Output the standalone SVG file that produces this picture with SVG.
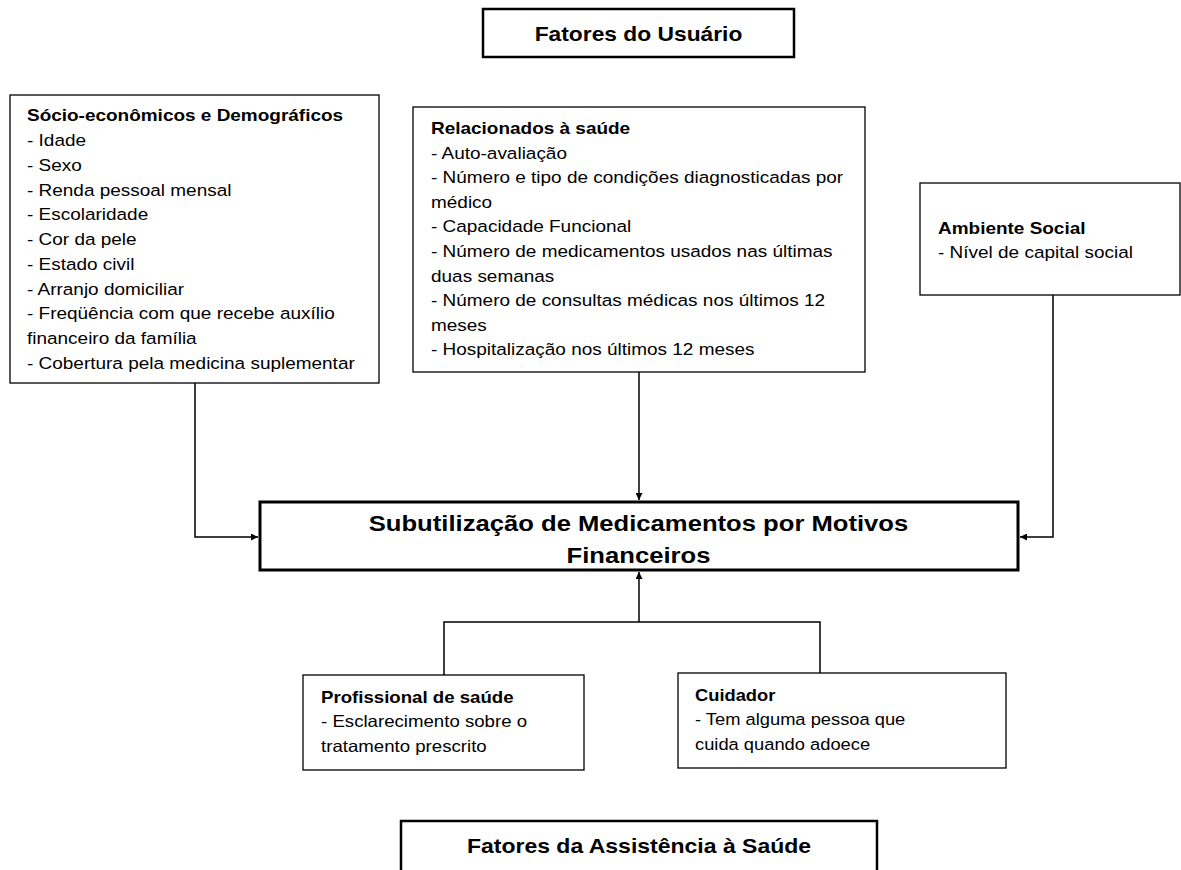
<svg xmlns="http://www.w3.org/2000/svg" width="1181" height="870" viewBox="0 0 1181 870">
<style>
text{font-family:"Liberation Sans",Arial,sans-serif;fill:#000}
.t{font-size:16.5px}
.b{font-weight:bold}
.h{font-size:20px;font-weight:bold}
.m{font-size:22px;font-weight:bold}
.box{fill:#fff;stroke:#000;stroke-width:1.3}
.tbox{fill:#fff;stroke:#000;stroke-width:2.5}
.cbox{fill:#fff;stroke:#000;stroke-width:3}
.ln{fill:none;stroke:#000;stroke-width:1.5}
</style>
<defs>
<marker id="ah" viewBox="0 0 10 10" refX="10" refY="5" markerWidth="7" markerHeight="7" markerUnits="userSpaceOnUse" orient="auto">
<path d="M0,0 L10,5 L0,10 z" fill="#000"/>
</marker>
</defs>
<rect width="1181" height="870" fill="#fff"/>
<g id="connectors">
<path class="ln" d="M195,383 V537 H258" marker-end="url(#ah)"/>
<path class="ln" d="M639,372 V500" marker-end="url(#ah)"/>
<path class="ln" d="M1053,295 V537 H1020" marker-end="url(#ah)"/>
<path class="ln" d="M444,675 V622 H820 V673"/>
<path class="ln" d="M639,622 V572" marker-end="url(#ah)"/>
</g>
<g id="fatores-usuario">
<rect class="tbox" x="483" y="9" width="311" height="48"/>
<g transform="translate(638.5,0) scale(1.14,1)"><text class="h" x="0" y="41" text-anchor="middle">Fatores do Usuário</text></g>
</g>
<g id="socio">
<rect class="box" x="10" y="95" width="369" height="288"/>
<g transform="translate(27,0) scale(1.15,1)">
<text class="t b" x="0" y="121.5">Sócio-econômicos e Demográficos</text>
<text class="t" x="0" y="146.25">- Idade</text>
<text class="t" x="0" y="171">- Sexo</text>
<text class="t" x="0" y="195.75">- Renda pessoal mensal</text>
<text class="t" x="0" y="220.5">- Escolaridade</text>
<text class="t" x="0" y="245.25">- Cor da pele</text>
<text class="t" x="0" y="270">- Estado civil</text>
<text class="t" x="0" y="294.75">- Arranjo domiciliar</text>
<text class="t" x="0" y="319.5">- Freqüência com que recebe auxílio</text>
<text class="t" x="0" y="344.25">financeiro da família</text>
<text class="t" x="0" y="369">- Cobertura pela medicina suplementar</text>
</g>
</g>
<g id="saude">
<rect class="box" x="413" y="107" width="452" height="265"/>
<g transform="translate(431,0) scale(1.15,1)">
<text class="t b" x="0" y="134">Relacionados à saúde</text>
<text class="t" x="0" y="158.6">- Auto-avaliação</text>
<text class="t" x="0" y="183.2">- Número e tipo de condições diagnosticadas por</text>
<text class="t" x="0" y="207.8">médico</text>
<text class="t" x="0" y="232.4">- Capacidade Funcional</text>
<text class="t" x="0" y="257">- Número de medicamentos usados nas últimas</text>
<text class="t" x="0" y="281.6">duas semanas</text>
<text class="t" x="0" y="306.2">- Número de consultas médicas nos últimos 12</text>
<text class="t" x="0" y="330.8">meses</text>
<text class="t" x="0" y="355.4">- Hospitalização nos últimos 12 meses</text>
</g>
</g>
<g id="ambiente">
<rect class="box" x="920" y="183" width="260" height="112"/>
<g transform="translate(938,0) scale(1.15,1)">
<text class="t b" x="0" y="234">Ambiente Social</text>
<text class="t" x="0" y="258.5">- Nível de capital social</text>
</g>
</g>
<g id="subutilizacao">
<rect class="cbox" x="260" y="502" width="758" height="68"/>
<g transform="translate(638.5,0) scale(1.165,1)">
<text class="m" x="0" y="531" text-anchor="middle">Subutilização de Medicamentos por Motivos</text>
<text class="m" x="0" y="563" text-anchor="middle">Financeiros</text>
</g>
</g>
<g id="profissional">
<rect class="box" x="303" y="675" width="281" height="95"/>
<g transform="translate(321,0) scale(1.13,1)">
<text class="t b" x="0" y="703">Profissional de saúde</text>
<text class="t" x="0" y="727.5">- Esclarecimento sobre o</text>
<text class="t" x="0" y="752">tratamento prescrito</text>
</g>
</g>
<g id="cuidador">
<rect class="box" x="678" y="673" width="328" height="95"/>
<g transform="translate(695,0) scale(1.11,1)">
<text class="t b" x="0" y="701">Cuidador</text>
<text class="t" x="0" y="725.5">- Tem alguma pessoa que</text>
<text class="t" x="0" y="750">cuida quando adoece</text>
</g>
</g>
<g id="fatores-assistencia">
<rect class="tbox" x="401" y="821" width="476" height="60"/>
<g transform="translate(639,0) scale(1.15,1)"><text class="h" x="0" y="853" text-anchor="middle">Fatores da Assistência à Saúde</text></g>
</g>
</svg>
